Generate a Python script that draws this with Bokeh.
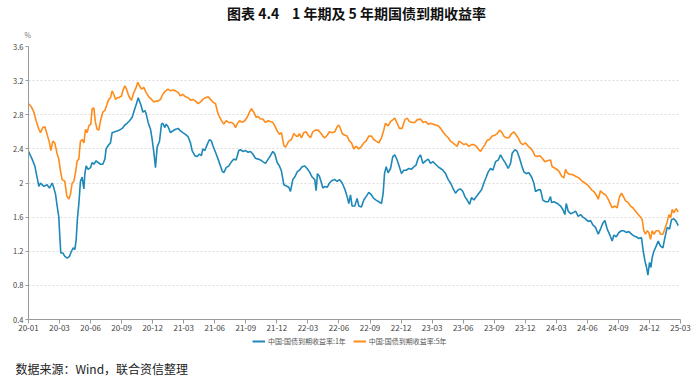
from bokeh.plotting import figure
from bokeh.models import Label, Legend, LegendItem, FixedTicker, CustomJSTickFormatter, Range1d, Title
from bokeh.layouts import column
from bokeh.embed import file_html
from bokeh.resources import INLINE

# ---- data (months since 2020-01-01) ----
months_1y = [0.0,0.35,0.61,0.84,1.00,1.16,1.48,1.80,2.03,2.29,2.45,2.61,2.77,2.93,3.03,3.12,3.32,3.51,3.74,3.96,4.15,4.32,4.48,4.61,4.73,4.86,5.02,5.18,5.35,5.44,5.57,5.76,5.99,6.15,6.31,6.54,6.73,6.96,7.18,7.38,7.50,7.70,7.92,8.08,8.34,8.57,8.79,9.05,9.31,9.53,9.76,10.02,10.27,10.43,10.60,10.76,10.92,11.05,11.24,11.37,11.56,11.79,11.95,12.11,12.27,
             12.43,12.66,12.85,12.98,13.17,13.30,13.49,13.72,13.94,14.20,14.46,14.69,14.91,15.17,15.43,15.65,15.81,16.07,16.30,16.52,16.71,16.84,17.04,17.26,17.49,17.68,17.81,18.07,18.32,18.55,18.71,18.87,19.10,19.36,19.61,19.84,20.06,20.32,20.48,20.71,20.97,21.22,21.45,21.67,21.93,22.19,22.41,22.64,22.90,23.16,23.38,23.61,23.80,24.03,24.25,24.44,24.67,
             25.15,25.31,25.54,25.73,25.96,26.18,26.44,26.70,26.92,27.15,27.41,27.66,27.79,27.92,28.11,28.31,28.44,28.63,28.86,29.08,29.34,29.60,29.82,30.05,30.31,30.56,30.79,30.95,31.11,31.27,31.53,31.75,31.92,32.17,32.40,32.62,32.88,33.14,33.36,33.59,33.85,34.11,34.27,34.40,34.56,34.75,34.98,35.20,35.39,35.62,35.78,36.04,36.26,36.49,36.75,37.00,37.23,37.45,37.65,37.87,
             38.11,38.37,38.62,38.85,39.07,39.33,39.59,39.82,40.04,40.30,40.56,40.78,41.01,41.26,41.52,41.75,41.97,42.17,42.39,42.62,42.81,43.04,43.26,43.52,43.78,44.00,44.23,44.42,44.65,44.87,45.13,45.39,45.61,45.84,46.10,46.35,46.58,46.74,47.00,47.22,47.45,47.64,47.87,48.09,48.35,48.61,48.83,48.99,49.25,49.48,49.70,49.96,50.22,50.44,
             50.54,50.77,51.09,51.41,51.63,51.83,51.96,52.15,52.38,52.60,52.86,53.12,53.34,53.57,53.82,54.08,54.31,54.53,54.79,55.05,55.27,55.50,55.69,55.92,56.14,56.40,56.56,56.79,57.05,57.30,57.53,57.75,58.01,58.27,58.49,58.72,58.98,59.23,59.40,59.56,59.72,59.85,60.01,60.14,60.27,60.43,60.65,60.85,61.07,61.30,61.49,61.72,61.94,62.13,62.36,62.58,62.78]
yield_1y = [2.37,2.28,2.20,2.06,1.96,2.00,1.96,1.98,1.94,2.00,1.94,1.87,1.73,1.60,1.36,1.18,1.18,1.14,1.12,1.14,1.20,1.24,1.22,1.34,1.59,1.75,2.02,2.07,1.93,2.10,2.20,2.16,2.18,2.24,2.22,2.26,2.24,2.22,2.22,2.28,2.40,2.44,2.47,2.59,2.60,2.61,2.62,2.64,2.68,2.70,2.73,2.77,2.87,2.93,3.00,2.95,2.89,2.83,2.85,2.81,2.71,2.63,2.51,2.36,2.18,
            2.42,2.49,2.69,2.70,2.65,2.69,2.66,2.59,2.61,2.63,2.64,2.61,2.59,2.57,2.54,2.47,2.38,2.32,2.31,2.34,2.32,2.40,2.38,2.45,2.51,2.49,2.44,2.36,2.28,2.20,2.14,2.12,2.18,2.20,2.25,2.28,2.27,2.38,2.39,2.37,2.38,2.36,2.37,2.34,2.29,2.28,2.27,2.25,2.23,2.28,2.32,2.37,2.34,2.24,2.20,2.14,1.98,
            1.95,1.90,2.04,2.07,2.13,2.15,2.19,2.20,2.17,2.13,2.07,2.04,1.91,2.11,2.08,2.00,1.94,1.96,1.95,2.00,2.03,2.04,2.02,2.04,2.00,1.93,1.84,1.76,1.86,1.73,1.73,1.82,1.73,1.72,1.80,1.84,1.89,1.86,1.82,1.80,1.78,1.76,1.88,2.11,2.19,2.12,2.17,2.31,2.33,2.27,2.21,2.11,2.15,2.15,2.17,2.16,2.19,2.21,2.29,2.33,
            2.23,2.26,2.28,2.23,2.25,2.22,2.19,2.17,2.15,2.11,2.04,2.00,1.94,1.88,1.92,1.93,1.90,1.84,1.80,1.75,1.83,1.80,1.84,1.88,1.92,2.00,2.07,2.13,2.17,2.15,2.25,2.27,2.33,2.28,2.23,2.17,2.23,2.35,2.39,2.37,2.29,2.21,2.13,2.11,2.12,2.07,2.00,1.90,1.92,1.92,1.80,1.78,1.78,1.84,
            1.77,1.78,1.76,1.73,1.69,1.63,1.76,1.67,1.64,1.65,1.67,1.61,1.63,1.60,1.58,1.55,1.56,1.51,1.48,1.40,1.46,1.53,1.56,1.46,1.40,1.32,1.39,1.37,1.42,1.44,1.44,1.42,1.43,1.40,1.38,1.37,1.35,1.36,1.20,1.09,1.01,0.92,1.07,1.01,1.13,1.20,1.26,1.32,1.26,1.24,1.36,1.48,1.46,1.57,1.58,1.55,1.50]

months_5y = [0.0,0.29,0.52,0.74,1.00,1.16,1.38,1.58,1.80,2.03,2.16,2.35,2.54,2.77,2.93,3.09,3.25,3.51,3.70,3.90,4.06,4.22,4.38,4.54,4.70,4.86,5.02,5.18,5.35,5.51,5.67,5.83,6.02,6.15,6.31,6.47,6.63,6.79,6.96,7.18,7.38,7.60,7.76,7.92,8.08,8.24,8.41,8.57,8.73,8.99,9.11,9.31,9.47,9.69,9.95,10.18,10.40,10.56,10.72,10.92,11.14,11.37,11.63,11.88,12.11,12.33,
             12.53,12.75,12.98,13.24,13.49,13.72,13.94,14.20,14.46,14.69,14.91,15.17,15.43,15.65,15.88,16.14,16.39,16.62,16.84,17.10,17.36,17.58,17.81,18.07,18.23,18.39,18.65,18.87,19.10,19.36,19.61,19.84,20.00,20.16,20.39,20.64,20.90,21.13,21.35,21.55,21.77,22.00,22.19,22.41,22.64,22.90,23.16,23.38,23.61,23.80,24.03,24.25,24.44,24.67,24.83,
             25.15,25.41,25.64,25.86,26.05,26.18,26.38,26.60,26.83,27.02,27.25,27.47,27.73,27.99,28.21,28.44,28.63,28.86,29.08,29.34,29.60,29.82,29.98,30.14,30.31,30.56,30.79,31.01,31.21,31.43,31.66,31.92,32.17,32.40,32.62,32.88,33.14,33.36,33.59,33.85,34.11,34.33,34.49,34.75,34.98,35.20,35.39,35.62,35.84,36.10,36.36,36.59,36.81,37.07,37.33,37.55,37.87,
             38.11,38.37,38.62,38.85,39.07,39.33,39.59,39.82,40.04,40.30,40.56,40.78,41.01,41.20,41.43,41.59,41.84,42.07,42.30,42.55,42.81,43.04,43.26,43.52,43.68,43.84,44.10,44.32,44.55,44.81,45.07,45.29,45.52,45.71,45.93,46.16,46.42,46.68,46.90,47.13,47.32,47.55,47.77,48.03,48.29,48.51,48.74,48.93,49.16,49.38,49.64,49.90,50.12,50.44,
             50.60,50.93,51.25,51.51,51.73,51.89,52.05,52.28,52.54,52.86,53.18,53.50,53.76,53.99,54.15,54.40,54.63,54.86,55.05,55.27,55.50,55.76,56.01,56.24,56.40,56.66,56.88,57.11,57.30,57.53,57.69,57.95,58.17,58.40,58.66,58.91,59.14,59.30,59.46,59.62,59.78,59.94,60.10,60.27,60.43,60.65,60.91,61.07,61.30,61.49,61.72,61.88,62.04,62.20,62.36,62.58,62.78]
yield_5y = [2.93,2.89,2.83,2.73,2.63,2.59,2.65,2.66,2.57,2.47,2.38,2.49,2.47,2.34,2.28,2.14,2.04,2.02,1.85,1.81,1.87,2.00,2.02,2.12,2.26,2.28,2.49,2.51,2.47,2.63,2.59,2.67,2.69,2.87,2.88,2.71,2.63,2.62,2.73,2.83,2.85,2.93,2.98,3.00,3.08,3.04,2.98,3.00,3.00,3.02,3.08,3.14,3.10,3.02,2.97,3.06,3.12,3.18,3.14,3.10,3.12,3.06,3.01,2.98,2.95,2.96,
            2.96,2.98,3.04,3.08,3.10,3.08,3.09,3.08,3.06,3.02,3.04,3.01,3.00,2.97,2.98,2.96,2.93,2.95,2.98,3.00,3.01,2.98,2.95,2.93,2.85,2.79,2.73,2.69,2.73,2.71,2.71,2.69,2.65,2.69,2.73,2.71,2.73,2.77,2.83,2.87,2.83,2.77,2.78,2.75,2.75,2.71,2.73,2.72,2.71,2.67,2.61,2.57,2.59,2.44,2.42,
            2.49,2.51,2.58,2.55,2.55,2.58,2.53,2.59,2.60,2.56,2.53,2.60,2.62,2.62,2.59,2.55,2.53,2.56,2.60,2.59,2.60,2.66,2.68,2.64,2.58,2.56,2.55,2.49,2.47,2.40,2.43,2.40,2.43,2.47,2.49,2.55,2.55,2.51,2.49,2.47,2.53,2.62,2.70,2.67,2.72,2.74,2.76,2.70,2.64,2.64,2.74,2.76,2.72,2.71,2.71,2.74,2.75,
            2.71,2.72,2.69,2.70,2.69,2.68,2.67,2.64,2.60,2.56,2.53,2.49,2.47,2.45,2.43,2.49,2.47,2.45,2.46,2.43,2.45,2.45,2.43,2.39,2.37,2.40,2.45,2.50,2.51,2.55,2.56,2.58,2.62,2.60,2.55,2.53,2.53,2.58,2.60,2.56,2.53,2.47,2.45,2.47,2.43,2.41,2.37,2.32,2.31,2.32,2.29,2.25,2.26,2.27,
            2.19,2.17,2.14,2.08,2.06,2.16,2.12,2.10,2.10,2.08,2.06,2.02,2.00,1.98,1.96,1.92,1.90,1.86,1.81,1.91,1.88,1.86,1.81,1.75,1.71,1.73,1.71,1.84,1.88,1.83,1.79,1.77,1.73,1.71,1.67,1.63,1.60,1.57,1.44,1.40,1.44,1.42,1.34,1.44,1.40,1.44,1.44,1.40,1.40,1.46,1.55,1.63,1.59,1.69,1.65,1.70,1.66]

tick_months = [0, 3, 6, 9, 12, 15, 18, 21, 24, 27, 30, 33, 36, 39, 42, 45, 48, 51, 54, 57, 60, 63]
tick_labels = ["20-01", "20-03", "20-06", "20-09", "20-12", "21-03", "21-06", "21-09", "21-12", "22-03", "22-06",
               "22-09", "22-12", "23-03", "23-06", "23-09", "23-12", "24-03", "24-06", "24-09", "24-12", "25-03"]
y_ticks = [0.4, 0.8, 1.2, 1.6, 2.0, 2.4, 2.8, 3.2, 3.6]

series_names = ["中国:国债到期收益率:1年", "中国:国债到期收益率:5年"]
title_text = "图表 4.4\u00a0\u00a0\u00a0 1\u00a0年期及\u00a05\u00a0年期国债到期收益率"
source_text = "数据来源：Wind，联合资信整理"
unit_text = "%"

assert len(months_1y) == len(yield_1y)
assert len(months_5y) == len(yield_5y)

FONT = "Noto Sans CJK SC"
BLUE = "#1e88b8"
ORANGE = "#ff8c1a"
W = 700
FL, FR = 28, 680   # frame left/right in page pixels


def strip(height, border_bottom=0):
    f = figure(width=W, height=height, output_backend="svg", toolbar_location=None,
               x_range=Range1d(FL, FR), y_range=Range1d(0, 1),
               x_axis_location=None, y_axis_location=None,
               min_border=0, min_border_left=FL, min_border_right=W - FR,
               min_border_top=0, min_border_bottom=border_bottom)
    f.outline_line_color = None
    f.xgrid.visible = False
    f.ygrid.visible = False
    return f


# ---- header: chart title ----
top = strip(21)
top.y_range = Range1d(0, 21)
top.add_layout(Label(x=356, y=9, text=title_text, text_font=FONT, text_font_size="14px",
                     text_font_style="bold", text_align="center", text_baseline="middle",
                     text_color="#111111"))

# ---- main chart ----
p = figure(width=W, height=316, output_backend="svg", toolbar_location=None,
           x_range=Range1d(0, 63), y_range=Range1d(0.4, 3.6),
           min_border_left=FL, min_border_right=W - FR, min_border_top=24, min_border_bottom=18)
p.outline_line_color = None
p.title.text = unit_text
p.title.align = "left"
p.title.offset = -4
p.title.vertical_align = "bottom"
p.title.standoff = 13
p.title.text_font = FONT
p.title.text_font_size = "7px"
p.title.text_font_style = "normal"
p.title.text_color = "#777777"

p.line(months_1y, yield_1y, line_color=BLUE, line_width=1.6)
p.line(months_5y, yield_5y, line_color=ORANGE, line_width=1.6)

xa = p.xaxis[0]
xa.ticker = FixedTicker(ticks=tick_months)
xa.major_label_overrides = dict(zip(tick_months, tick_labels))
xa.minor_tick_line_color = None
xa.axis_line_color = "#9a9a9a"
xa.major_tick_line_color = "#9a9a9a"
xa.major_tick_out = 4
xa.major_tick_in = 0
xa.major_label_standoff = 1
xa.major_label_text_font_size = "8px"
xa.major_label_text_color = "#444444"
xa.major_label_text_font = FONT

ya = p.yaxis[0]
ya.ticker = FixedTicker(ticks=y_ticks)
ya.formatter = CustomJSTickFormatter(code="return String(Math.round(tick*10)/10);")
ya.minor_tick_line_color = None
ya.axis_line_color = "#9a9a9a"
ya.major_tick_line_color = "#9a9a9a"
ya.major_tick_out = 3
ya.major_tick_in = 0
ya.major_label_standoff = 2
ya.major_label_text_font_size = "7.5px"
ya.major_label_text_color = "#444444"
ya.major_label_text_font = FONT

p.xgrid.visible = False
p.ygrid.ticker = FixedTicker(ticks=y_ticks)
p.ygrid.grid_line_color = "#dcdcdc"
p.ygrid.grid_line_dash = "2 2"

# ---- footer: legend and source ----
bottom = strip(42, border_bottom=22)
k1 = bottom.line(months_1y, yield_1y, line_color=BLUE, line_width=2, visible=False)
k5 = bottom.line(months_5y, yield_5y, line_color=ORANGE, line_width=2, visible=False)
legend = Legend(items=[LegendItem(label=series_names[0], renderers=[k1]),
                       LegendItem(label=series_names[1], renderers=[k5])],
                orientation="horizontal", location=(222, 6), click_policy="none",
                padding=2, spacing=7, margin=0, glyph_width=13, glyph_height=8,
                label_height=8, label_standoff=3, inactive_fill_alpha=0,
                label_text_font_size="7px", label_text_font=FONT, label_text_color="#555555",
                border_line_alpha=0, background_fill_alpha=0)
bottom.add_layout(legend)
bottom.add_layout(Title(text=source_text, align="left", offset=-13, vertical_align="bottom",
                        standoff=6, text_font=FONT, text_font_size="12px",
                        text_font_style="normal", text_color="#222222"), "below")

root = column(top, p, bottom, spacing=0)
open("out.html", "w").write(file_html(root, INLINE))
